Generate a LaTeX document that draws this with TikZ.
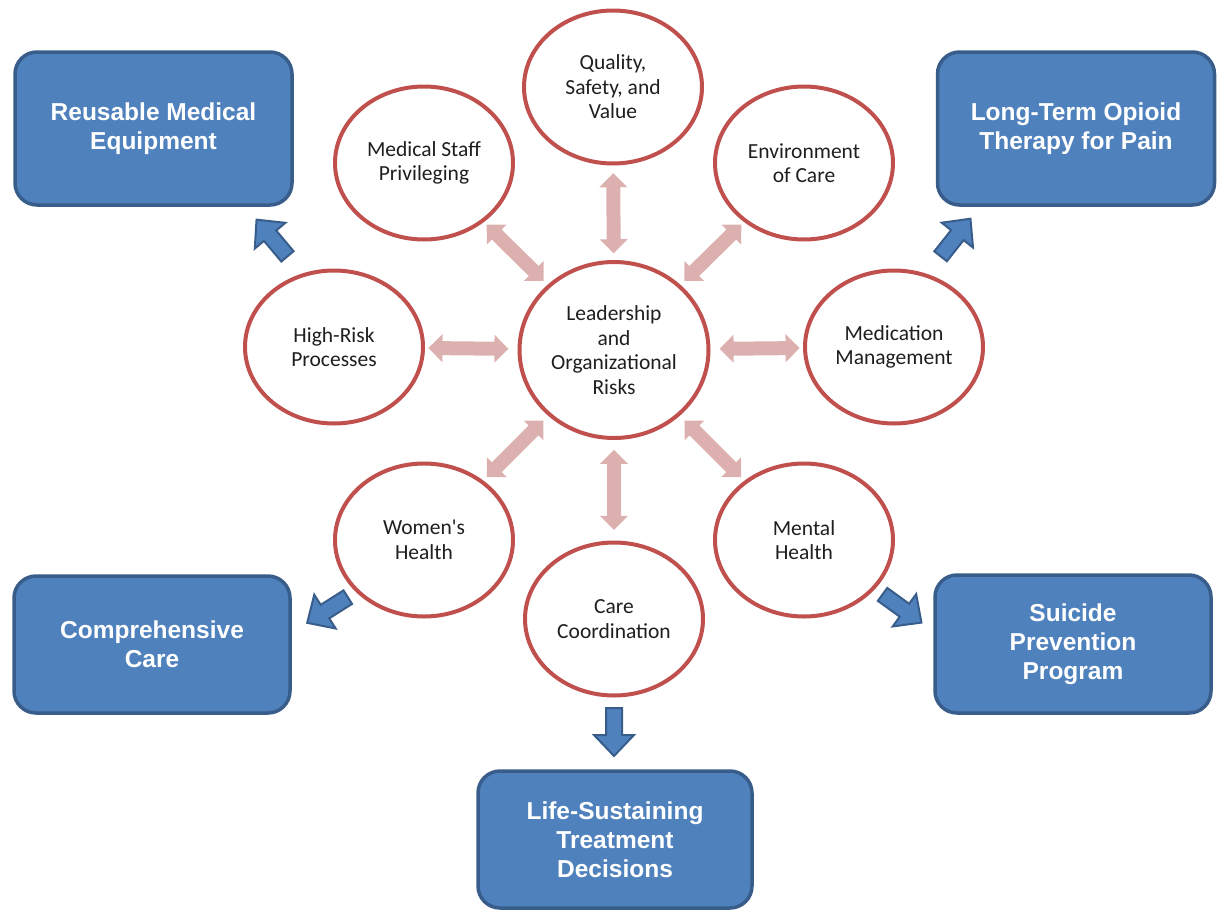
\documentclass[tikz,border=0pt]{standalone}
\usepackage{fontspec}
\newfontfamily\circfont{Carlito}
\newfontfamily\boxfont{Liberation Sans}
\usetikzlibrary{shapes.geometric}
\definecolor{boxfill}{HTML}{4F81BD}
\definecolor{boxline}{HTML}{385D8A}
\definecolor{ringred}{HTML}{C0504D}
\definecolor{pinkfill}{RGB}{221,176,176}
\begin{document}
\begin{tikzpicture}[x=1pt,y=-1pt,
 ring/.style={ellipse, draw=ringred, line width=4pt, fill=white, minimum width=178pt, minimum height=153pt, inner sep=0pt, align=center, font=\circfont\fontsize{21.5}{24.5}\selectfont, text=black!88},
 bluebox/.style={draw=boxline, fill=boxfill, line width=3.5pt, rounded corners=22pt, minimum width=277pt, minimum height=153pt, align=center, text=white, font=\boxfont\bfseries\fontsize{24.5}{29}\selectfont},
 pinkdbl/.pic={\fill[pinkfill] (-40,0) -- (-26,-14) -- (-26,-7) -- (26,-7) -- (26,-14) -- (40,0) -- (26,14) -- (26,7) -- (-26,7) -- (-26,14) -- cycle;},
 bluearr/.pic={\filldraw[fill=boxfill, draw=boxline, line width=2pt, line join=miter] (-24,-8) -- (3,-8) -- (3,-20) -- (24,0) -- (3,20) -- (3,8) -- (-24,8) -- cycle;}
]
\useasboundingbox (0,0) rectangle (1219,913);

% circles
\node[ring, minimum width=189pt, minimum height=176pt] (lead) at (614,350) {Leadership\\and\\Organizational\\Risks};
\node[ring] (quality) at (613,87) {Quality,\\Safety, and\\Value};
\node[ring] (medstaff) at (424,163) {Medical Staff\\Privileging};
\node[ring] (env) at (804,163) {Environment\\of Care};
\node[ring] (highrisk) at (334,347) {High-Risk\\Processes};
\node[ring] (medmgmt) at (894,347) {Medication\\Management};
\node[ring] (womens) at (424,540) {Women's\\Health};
\node[ring] (mental) at (804,540) {Mental\\Health};
\node[ring] (care) at (614,619) {Care\\Coordination};

% boxes
\node[bluebox] (reuse) at (153.5,128.5) {Reusable Medical\\Equipment};
\node[bluebox] (opioid) at (1076,128.5) {Long-Term Opioid\\Therapy for Pain};
\node[bluebox, minimum width=276pt, minimum height=137pt] (compr) at (152,644.5) {Comprehensive\\Care};
\node[bluebox, minimum width=276pt, minimum height=138pt] (suicide) at (1073,644) {Suicide\\Prevention\\Program};
\node[bluebox, minimum width=274pt, minimum height=137pt] (life) at (615,839.5) {Life-Sustaining\\Treatment\\Decisions};

% pink double arrows
\foreach \n in {quality,medstaff,env,highrisk,medmgmt,womens,mental,care}
  \path (lead.center) -- (\n.center) pic[pos=0.52, sloped] {pinkdbl};

% blue arrows
\coordinate (ulT) at (288,257); \coordinate (ulH) at (256,219);
\coordinate (urT) at (940,257); \coordinate (urH) at (971,218);
\coordinate (llT) at (348,597); \coordinate (llH) at (307,623);
\coordinate (lrT) at (882,594); \coordinate (lrH) at (922,623);
\coordinate (bT) at (614,707);  \coordinate (bH) at (614,757);
\foreach \a/\b in {ulT/ulH,urT/urH,llT/llH,lrT/lrH,bT/bH}
  \path (\a) -- (\b) pic[midway, sloped, allow upside down] {bluearr};
\end{tikzpicture}
\end{document}
